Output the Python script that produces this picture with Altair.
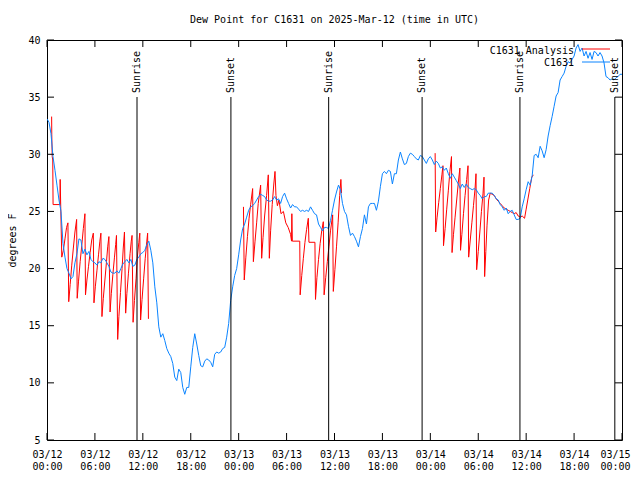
import json
import altair as alt
import pandas as pd

# ---------------- data ----------------
# C1631 observations, every 15 minutes from 2025-03-12 00:00 UTC (hours)
blue_step = 0.25
blue_vals = [
    33.1, 32.8, 31.8, 29.8, 28.6, 27.3, 26.0, 25.0, 22.2, 21.0, 20.0, 19.6,
    19.1, 19.3, 20.5, 21.3, 22.6, 22.5, 21.3, 21.7, 21.2, 21.5, 20.8, 20.6,
    20.5, 20.3, 20.6, 20.5, 20.9, 20.8, 20.5, 20.2, 19.7, 19.6, 19.6, 19.8,
    19.6, 20.0, 20.4, 20.6, 20.8, 20.5, 20.8, 20.2, 20.3, 20.8, 21.0, 21.3,
    21.4, 21.6, 22.1, 22.4, 21.6, 20.5, 18.4, 17.0, 14.9, 14.0, 14.3, 13.7,
    13.0, 12.6, 12.3, 11.7, 10.5, 10.2, 11.2, 10.9, 9.6, 9.0, 9.6, 9.6,
    11.4, 13.1, 14.3, 13.4, 12.4, 11.5, 11.4, 11.9, 12.1, 12.0, 11.8, 11.4,
    12.5, 12.7, 12.6, 12.7, 13.0, 13.1, 14.0, 15.2, 17.2, 18.4, 19.4, 20.0,
    21.2, 22.5, 23.5, 23.9, 24.5, 25.1, 25.4, 25.5, 25.7, 26.0, 26.3, 26.5,
    26.4, 26.3, 26.0, 25.9, 25.9, 26.0, 26.3, 26.0, 26.1, 25.7, 26.3, 26.6,
    26.1, 25.7, 25.3, 25.6, 25.4, 25.4, 25.2, 25.0, 25.1, 25.0, 25.1, 25.0,
    25.4, 25.1, 24.8, 24.7, 23.9, 23.6, 23.3, 23.6, 23.6, 23.5, 24.2, 25.1,
    26.0, 26.7, 27.3, 26.9, 25.7, 25.0, 24.7, 23.7, 22.9, 23.1, 22.8, 22.4,
    21.9, 22.8, 23.5, 24.7, 23.9, 25.4, 25.7, 25.7, 25.7, 25.1, 25.9, 27.2,
    28.3, 28.5, 28.3, 28.6, 28.5, 27.4, 28.3, 28.3, 29.5, 30.2, 29.6, 29.1,
    29.2, 29.8, 30.1, 30.0, 29.8, 29.6, 29.5, 29.9, 29.8, 29.5, 29.2, 29.6,
    29.8, 29.5, 29.1, 29.4, 29.2, 28.8, 28.9, 28.6, 28.8, 28.3, 27.9, 28.3,
    28.0, 27.7, 27.4, 27.0, 27.4, 27.1, 27.4, 27.1, 27.0, 26.9, 27.0, 26.9,
    26.6, 26.4, 26.1, 26.3, 26.3, 26.6, 26.6, 26.6, 26.4, 26.1, 26.0, 25.6,
    25.4, 25.1, 25.3, 24.8, 25.0, 25.1, 24.7, 24.3, 24.3, 24.4, 25.4, 26.1,
    26.9, 27.6, 27.3, 28.1, 29.9, 30.0, 29.7, 30.7, 30.3, 29.7, 30.4, 31.6,
    32.5, 33.3, 34.2, 35.1, 35.4, 36.5, 36.8, 37.1, 37.7, 38.1, 38.0, 38.3,
    38.6, 39.3, 39.6, 39.0, 39.3, 38.6, 39.0, 38.4, 38.9, 38.3, 39.0, 38.9,
    38.6, 38.9, 38.6, 38.0, 36.8, 36.7, 36.5, 36.6, 36.5, 36.7, 36.8, 37.0,
    37.0,
]

# C1631 Analysis (hours since 03/12 00:00 UTC, value); None separates windows
red_hours = [
    0.58, 0.60, 0.65, 0.72, 0.76, 1.62, 1.65, 1.72, 1.85, 2.05, 2.25, 2.45, 2.62,
    2.72, 2.9, 3.1, 3.3, 3.5, 3.71, 3.78, 3.95, 4.15, 4.35, 4.55, 4.75,
    4.82, 5.0, 5.2, 5.4, 5.6, 5.8, 5.88, 6.05, 6.25, 6.45, 6.62, 6.75,
    6.88, 7.05, 7.25, 7.45, 7.6, 7.75, 7.9, 8.05, 8.25, 8.45, 8.6, 8.7,
    8.85, 9.0, 9.2, 9.4, 9.55, 9.7, 9.85, 10.0, 10.2, 10.4, 10.55, 10.65,
    10.78, 10.95, 11.15, 11.3, 11.5, 11.62, 11.72, 11.9, 12.1, 12.3, 12.5, 12.6, 12.7,
    None,
    24.6, 24.7, 24.9, 25.1, 25.3, 25.5, 25.75, 25.84, 26.05, 26.25, 26.45, 26.75,
    26.88, 27.05, 27.25, 27.5, 27.71, 27.84, 28.0, 28.2, 28.4, 28.55, 28.67,
    28.85, 29.05, 29.3, 29.6, 29.9, 30.2, 30.5, 30.62, 30.66, 30.72, 31.65,
    31.7, 31.9, 32.1, 32.3, 32.5, 32.72, 32.8, 33.55, 33.62, 33.8, 34.0, 34.2,
    34.4, 34.6, 34.7, 34.9, 35.1, 35.3, 35.5, 35.77, 35.85, 36.05, 36.25,
    36.45, 36.65, 36.8, 36.88,
    None,
    48.6, 48.67, 48.85, 49.05, 49.25, 49.45, 49.58, 49.65, 49.85, 50.05, 50.25,
    50.45, 50.65, 50.72, 50.9, 51.1, 51.3, 51.5, 51.7, 51.78, 51.95, 52.15,
    52.35, 52.55, 52.72, 52.8, 53.0, 53.2, 53.4, 53.6, 53.72, 53.8, 54.0,
    54.2, 54.4, 54.6, 54.72, 54.8, 54.95, 55.1, 55.3, 55.5, 55.75, 56.0,
    56.25, 56.5, 56.75, 57.0, 57.25, 57.5, 57.75, 58.0, 58.25, 58.5, 58.75,
    59.0, 59.25, 59.5, 59.8, 60.0, 60.2, 60.45, 60.7, 60.9,
]
red_vals = [
    33.3, 31.7, 29.8, 29.5, 25.6, 25.6, 27.8, 25.4, 21.0, 21.6, 22.6, 23.6, 24.0,
    17.1, 18.6, 20.3, 21.8, 23.2, 24.3, 17.4, 18.9, 20.6, 22.0, 23.5, 24.8,
    17.7, 19.0, 20.2, 21.4, 22.5, 23.1, 17.0, 18.4, 19.8, 21.2, 22.4, 23.1,
    15.8, 17.4, 19.0, 20.6, 21.9, 22.8, 16.2, 17.8, 19.5, 21.0, 22.1, 22.9,
    13.8, 15.8, 17.9, 20.0, 21.8, 23.2, 16.1, 17.8, 19.6, 21.3, 22.4, 22.9,
    15.3, 17.2, 19.1, 20.9, 22.3, 23.1, 15.5, 17.3, 19.1, 20.9, 22.4, 23.1, 15.6,
    None,
    25.4, 19.0, 21.0, 22.8, 24.4, 25.6, 27.0, 20.6, 22.4, 24.0, 25.7, 27.3,
    20.9, 22.7, 24.6, 26.4, 28.2, 20.9, 23.3, 25.6, 27.4, 28.5, 26.4,
    25.5, 26.0, 24.8, 25.0, 24.0, 23.6, 23.0, 22.4, 24.8, 22.4, 22.4,
    17.7, 19.4, 20.9, 22.3, 23.4, 24.4, 22.3, 22.3, 17.3, 19.2, 20.8, 22.2,
    23.3, 24.1, 17.7, 19.2, 20.6, 21.9, 23.3, 24.7, 18.0, 19.9, 21.9,
    24.0, 26.4, 27.8, 26.6,
    None,
    30.1, 23.2, 24.5, 25.8, 27.0, 28.2, 29.0, 22.0, 23.5, 25.2, 26.8,
    28.5, 29.8, 21.4, 23.0, 24.5, 26.0, 27.5, 28.8, 21.6, 23.0, 24.8,
    26.4, 27.8, 29.0, 21.0, 22.5, 24.0, 25.5, 27.0, 28.3, 19.9, 21.5,
    23.2, 25.0, 26.6, 28.0, 19.3, 21.5, 23.8, 26.0, 26.6, 26.5, 26.4,
    26.1, 25.9, 25.7, 25.5, 25.3, 25.2, 25.1, 25.0, 24.9, 24.8, 24.9,
    24.6, 24.5, 24.6, 24.4, 25.2, 26.0, 27.0, 28.0, 28.2,
]

event_hours = [11.27, 23.03, 35.27, 46.97, 59.22, 71.1]
event_labels = ["Sunrise", "Sunset", "Sunrise", "Sunset", "Sunrise", "Sunset"]

y_ticks = [5, 10, 15, 20, 25, 30, 35, 40]
x_ticks = [0, 6, 12, 18, 24, 30, 36, 42, 48, 54, 60, 66, 72]
x_dates = ["03/12", "03/12", "03/12", "03/12", "03/13", "03/13", "03/13",
           "03/13", "03/14", "03/14", "03/14", "03/14", "03/15"]
x_times = ["00:00", "06:00", "12:00", "18:00", "00:00", "06:00", "12:00",
           "18:00", "00:00", "06:00", "12:00", "18:00", "00:00"]

series_names = ["C1631 Analysis", "C1631"]
series_colors = ["#ff0000", "#0a84ff"]
title_text = "Dew Point for C1631 on 2025-Mar-12 (time in UTC)"

# ---------------- frames ----------------
blue_df = pd.DataFrame({"hour": [i * blue_step for i in range(len(blue_vals))],
                        "value": blue_vals})
red_df = pd.DataFrame({"hour": red_hours, "value": red_vals})
red_df["seg"] = red_df["hour"].isna().cumsum()
red_df = red_df.dropna()

ev_df = pd.DataFrame({"hour": event_hours, "label": event_labels})
yt_df = pd.DataFrame({"v": y_ticks})
xt_df = pd.DataFrame({"h": x_ticks})

W, H = 575, 400
FONT = "DejaVu Sans Mono"
FS = 10

xs = alt.Scale(domain=[0, 72], nice=False, zero=False)
ys = alt.Scale(domain=[5, 40], nice=False, zero=False)

label_expr = ("[" + json.dumps(x_dates) + "[round(datum.value/6)], "
              + json.dumps(x_times) + "[round(datum.value/6)]]")

x_axis = alt.Axis(values=x_ticks, labelExpr=label_expr, title=None, domain=False,
                  ticks=False, grid=False, labelFont=FONT, labelFontSize=FS,
                  labelColor="black", labelPadding=9, labelLineHeight=12,
                  labelFlush=False, labelOverlap=False,
                  labelOffset={"condition": {"test": "datum.value >= 72", "value": -7},
                               "value": 0})
y_axis = alt.Axis(values=y_ticks, title="degrees F", domain=False, ticks=False,
                  grid=False, labelFont=FONT, labelFontSize=FS, labelColor="black",
                  labelPadding=7, titleFont=FONT, titleFontSize=FS,
                  titleFontWeight="normal", titleColor="black", titlePadding=10)

red = alt.Chart(red_df).mark_line(color=series_colors[0], strokeWidth=1, clip=True).encode(
    x=alt.X("hour:Q", scale=xs, axis=x_axis),
    y=alt.Y("value:Q", scale=ys, axis=y_axis),
    detail="seg:N",
)
blue = alt.Chart(blue_df).mark_line(color=series_colors[1], strokeWidth=1, clip=True).encode(
    x=alt.X("hour:Q", scale=xs, axis=x_axis),
    y=alt.Y("value:Q", scale=ys, axis=y_axis),
)

ev_rules = alt.Chart(ev_df).mark_rule(color="black", strokeWidth=1).encode(
    x=alt.X("hour:Q", scale=xs), y=alt.value(57), y2=alt.value(H))
ev_text = alt.Chart(ev_df).mark_text(angle=270, align="left", baseline="middle",
                                     font=FONT, fontSize=FS, color="black").encode(
    x=alt.X("hour:Q", scale=xs), y=alt.value(53), text="label:N")

yt_left = alt.Chart(yt_df).mark_rule(color="black").encode(
    y=alt.Y("v:Q", scale=ys), x=alt.value(0), x2=alt.value(7))
yt_right = alt.Chart(yt_df).mark_rule(color="black").encode(
    y=alt.Y("v:Q", scale=ys), x=alt.value(W - 7), x2=alt.value(W))
xt_bot = alt.Chart(xt_df).mark_rule(color="black").encode(
    x=alt.X("h:Q", scale=xs), y=alt.value(H - 7), y2=alt.value(H))
xt_top = alt.Chart(xt_df).mark_rule(color="black").encode(
    x=alt.X("h:Q", scale=xs), y=alt.value(0), y2=alt.value(7))

title = alt.Chart(pd.DataFrame({"t": [title_text]})).mark_text(
    font=FONT, fontSize=FS, color="black", align="center", baseline="middle").encode(
    x=alt.value(W / 2), y=alt.value(-20), text="t:N")

# legend (inside plot, top-right), one row per series
legend_layers = []
row_y = [10.5, 23.0]
for name, col, yy in zip(series_names, series_colors, row_y):
    df = pd.DataFrame({"name": [name]})
    legend_layers.append(alt.Chart(df).mark_text(
        font=FONT, fontSize=FS, color="black", align="right", baseline="middle").encode(
        x=alt.value(527), y=alt.value(yy), text="name:N"))
    legend_layers.append(alt.Chart(df).mark_rule(color=col, strokeWidth=1).encode(
        x=alt.value(535), x2=alt.value(563), y=alt.value(round(yy) - 1)))

chart = alt.layer(
    red, blue, ev_rules, ev_text, yt_left, yt_right, xt_bot, xt_top, title,
    *legend_layers,
).properties(
    width=W, height=H,
    padding={"left": 39, "top": 32, "right": 10, "bottom": 32},
    autosize=alt.AutoSizeParams(type="none"),
    background="white",
).configure_view(stroke="black", strokeWidth=1)

chart.save("out.html", embed_options={"renderer": "svg", "actions": False})
